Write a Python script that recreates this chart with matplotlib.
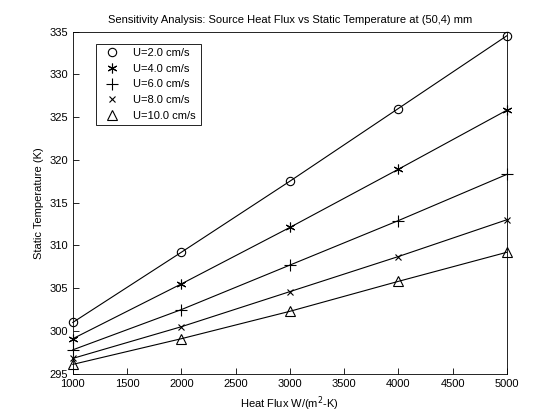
import matplotlib
matplotlib.use("Agg")
import matplotlib.pyplot as plt
from matplotlib.lines import Line2D

plt.rcParams['font.family'] = ['Liberation Sans', 'DejaVu Sans']
plt.rcParams['font.size'] = 8

heat_flux = [1000, 2000, 3000, 4000, 5000]
labels = ['U=2.0 cm/s', 'U=4.0 cm/s', 'U=6.0 cm/s', 'U=8.0 cm/s', 'U=10.0 cm/s']
temps = [
    [301.0, 309.2, 317.5, 326.0, 334.5],
    [299.1, 305.5, 312.1, 318.9, 325.8],
    [297.8, 302.5, 307.7, 312.9, 318.3],
    [296.8, 300.5, 304.6, 308.7, 313.0],
    [296.1, 299.1, 302.3, 305.8, 309.2],
]
# matlab-ish markers: circle, asterisk, plus, cross, triangle
markers = ['o', (6, 2, 0), '+', 'x', '^']
sizes = [6, 7, 8, 4, 7]

fig = plt.figure(figsize=(5.6, 4.2), dpi=100)
ax = fig.add_axes([0.13, 0.11, 0.775, 0.815])
handles = []
for t, lab, m, s in zip(temps, labels, markers, sizes):
    ax.plot(heat_flux, t, color='black', lw=0.8, marker=m, markersize=s,
            markerfacecolor='none', markeredgecolor='black', markeredgewidth=0.8,
            clip_on=False, zorder=3)
    handles.append(Line2D([], [], ls='none', marker=m, markersize=s,
                          markerfacecolor='none', markeredgecolor='black',
                          markeredgewidth=0.8, label=lab))

ax.set_xlim(1000, 5000)
ax.set_ylim(295, 335)
ax.set_xticks(range(1000, 5001, 500))
ax.set_yticks(range(295, 336, 5))
ax.tick_params(direction='in', length=4, width=0.6)
for sp in ax.spines.values():
    sp.set_linewidth(0.6)
ax.set_title('Sensitivity Analysis: Source Heat Flux vs Static Temperature at (50,4) mm', fontsize=8)
ax.set_xlabel('Heat Flux W/(m$^2$-K)')
ax.set_ylabel('Static Temperature (K)')
leg = ax.legend(handles=handles, loc='upper left', bbox_to_anchor=(0.04, 0.98),
                fancybox=False, edgecolor='black', framealpha=1, handlelength=2.2)
leg.get_frame().set_linewidth(0.6)

fig.savefig('out.png', dpi=100)
